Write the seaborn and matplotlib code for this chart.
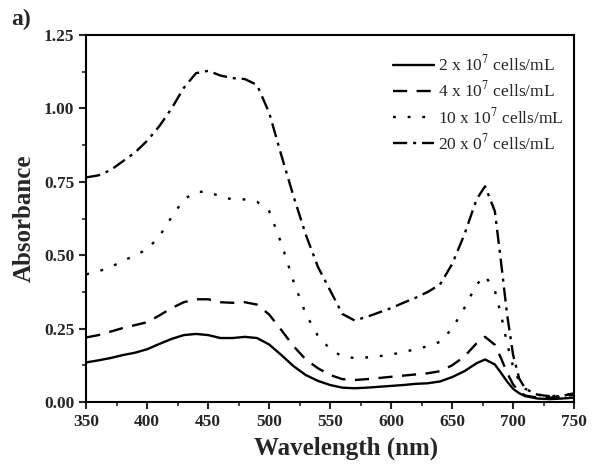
import matplotlib
matplotlib.use("Agg")
import matplotlib.pyplot as plt
import seaborn as sns
import pandas as pd
from matplotlib.ticker import MultipleLocator, AutoMinorLocator

sns.set_style("ticks")
plt.rcParams['font.family'] = ['Liberation Serif', 'DejaVu Serif']
plt.rcParams['mathtext.fontset'] = 'stix'

wavelength = [350, 360, 370, 380, 390, 400, 410, 420, 430, 440, 450, 460, 470, 480, 490,
              500, 510, 520, 530, 540, 550, 560, 570, 580, 590, 600, 610, 620, 630, 640,
              650, 660, 670, 677, 685, 690, 695, 700, 705, 710, 720, 730, 740, 750]

abs_2 = [0.135, 0.142, 0.150, 0.160, 0.168, 0.180, 0.198, 0.215, 0.228, 0.232, 0.228, 0.218, 0.218, 0.222, 0.218,
         0.196, 0.160, 0.122, 0.092, 0.072, 0.058, 0.049, 0.047, 0.049, 0.052, 0.055, 0.058, 0.062, 0.064, 0.070,
         0.085, 0.105, 0.132, 0.145, 0.128, 0.100, 0.070, 0.045, 0.030, 0.020, 0.012, 0.010, 0.012, 0.015]

abs_4 = [0.220, 0.228, 0.240, 0.252, 0.262, 0.272, 0.295, 0.320, 0.340, 0.350, 0.350, 0.340, 0.338, 0.340, 0.332,
         0.298, 0.245, 0.190, 0.145, 0.115, 0.092, 0.078, 0.075, 0.078, 0.082, 0.086, 0.090, 0.094, 0.098, 0.105,
         0.125, 0.155, 0.200, 0.222, 0.195, 0.150, 0.100, 0.060, 0.035, 0.022, 0.015, 0.015, 0.018, 0.025]

abs_10 = [0.435, 0.445, 0.460, 0.480, 0.500, 0.520, 0.565, 0.630, 0.690, 0.716, 0.716, 0.700, 0.690, 0.690, 0.682,
          0.650, 0.540, 0.410, 0.300, 0.225, 0.180, 0.155, 0.150, 0.152, 0.156, 0.162, 0.170, 0.180, 0.190, 0.205,
          0.250, 0.320, 0.400, 0.430, 0.380, 0.300, 0.200, 0.120, 0.070, 0.045, 0.025, 0.020, 0.022, 0.030]

abs_20 = [0.765, 0.772, 0.790, 0.820, 0.850, 0.890, 0.940, 1.000, 1.070, 1.120, 1.128, 1.112, 1.103, 1.100, 1.080,
          0.985, 0.840, 0.700, 0.570, 0.460, 0.380, 0.300, 0.278, 0.290, 0.305, 0.320, 0.338, 0.355, 0.375, 0.400,
          0.470, 0.570, 0.690, 0.735, 0.650, 0.480, 0.300, 0.160, 0.080, 0.045, 0.025, 0.020, 0.020, 0.030]

labels = ["2 x 10$^7$ cells/mL", "4 x 10$^7$ cells/mL", "10 x 10$^7$ cells/mL", "20 x 0$^7$ cells/mL"]
series = [abs_2, abs_4, abs_10, abs_20]
styles = ['-', (0, (6, 4)), (0, (1.2, 5)), (0, (6, 2.5, 1.3, 2.5))]

fig = plt.figure(figsize=(6.16, 4.73), dpi=100)
ax = fig.add_axes([0.140, 0.150, 0.792, 0.776])

for vals, lab, ls in zip(series, labels, styles):
    df = pd.DataFrame({"Wavelength": wavelength, "Absorbance": vals})
    sns.lineplot(data=df, x="Wavelength", y="Absorbance", ax=ax, color='black',
                 linestyle=ls, linewidth=1.7, label=lab)

ax.set_xlim(350, 750)
ax.set_ylim(0, 1.25)
ax.xaxis.set_major_locator(MultipleLocator(50))
ax.xaxis.set_minor_locator(AutoMinorLocator(2))
ax.yaxis.set_major_locator(MultipleLocator(0.25))
ax.yaxis.set_minor_locator(AutoMinorLocator(2))
ax.yaxis.set_major_formatter(matplotlib.ticker.FormatStrFormatter('%.2f'))

for s in ax.spines.values():
    s.set_linewidth(1.5)
    s.set_color('black')
ax.tick_params(which='major', direction='out', length=5, width=1.5, labelsize=12.5)
ax.tick_params(which='minor', direction='out', length=3, width=1.2)
for t in ax.get_xticklabels() + ax.get_yticklabels():
    t.set_fontweight('bold')

ax.set_xlabel("Wavelength (nm)", fontsize=18, fontweight='bold', labelpad=5, x=0.533)
ax.set_ylabel("Absorbance", fontsize=18, fontweight='bold', labelpad=6)

leg = ax.legend(loc='upper right', frameon=False, fontsize=12.5, handlelength=2.4,
                handletextpad=0.2, labelspacing=0.35, borderaxespad=0,
                bbox_to_anchor=(0.992, 0.965))

fig.text(0.018, 0.958, "a)", fontsize=17, fontweight='bold', va='center')

fig.savefig("out.png", dpi=100)
